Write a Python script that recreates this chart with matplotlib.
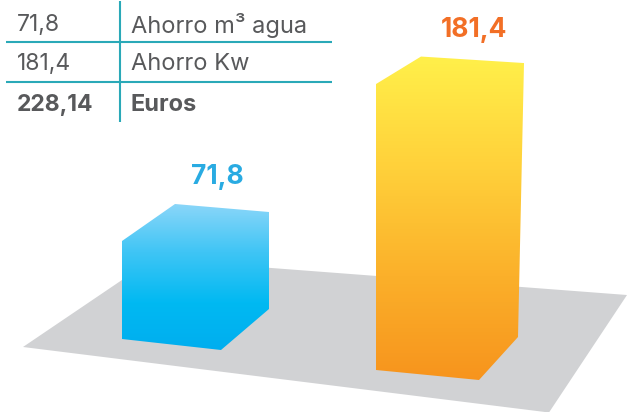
import numpy as np
import matplotlib
matplotlib.use('Agg')
import matplotlib.pyplot as plt
from matplotlib.colors import LinearSegmentedColormap
from matplotlib.patches import Polygon

plt.rcParams['font.family'] = ['Inter', 'DejaVu Sans']

# data
valores = [71.8, 181.4]
etiquetas = ['71,8', '181,4']
tabla_valores = ['71,8', '181,4', '228,14']
tabla_nombres = ['Ahorro m³ agua', 'Ahorro Kw', 'Euros']

GRIS = '#58595b'
TEAL = '#2aa9b8'

# pixel per unit of value, bars start above a cut baseline
ESCALA = 1.715
CORTE = 14.66


def alto(valor):
    return ESCALA * (valor - CORTE)


fig = plt.figure(figsize=(6.27, 4.12), dpi=100)
ax = fig.add_axes([0, 0, 1, 1])
ax.set_xlim(0, 627)
ax.set_ylim(412, 0)
ax.axis('off')

# floor
ax.add_patch(Polygon([(23, 347), (153, 259), (627, 295), (549, 412.5)],
                     facecolor='#d1d2d4', edgecolor='none', zorder=1))

# bars: front-left foot, roof and foot outlines relative to it
barras = [
    dict(x=122, y=339,
         techo=[(0, 0), (53, -37), (147, -29)],
         pie=[(147, -30), (99, 11), (0, 0)],
         colores=['#8ad6f9', '#3fc5f5', '#00b9f2', '#00aeef'],
         stops=[0, 0.33, 0.68, 1]),
    dict(x=376, y=370,
         techo=[(0, 0), (45, -27.5), (148, -21)],
         pie=[(142, -33), (103, 10), (0, 0)],
         colores=['#fff04a', '#ffd03a', '#fbb02a', '#f7941d'],
         stops=[0, 0.35, 0.68, 1]),
]

for valor, b in zip(valores, barras):
    y_top = b['y'] - alto(valor)
    pts = [(b['x'] + dx, y_top + dy) for dx, dy in b['techo']]
    pts += [(b['x'] + dx, b['y'] + dy) for dx, dy in b['pie']]
    xs, ys = zip(*pts)
    cmap = LinearSegmentedColormap.from_list('g', list(zip(b['stops'], b['colores'])))
    img = ax.imshow(np.linspace(0, 1, 256).reshape(-1, 1), cmap=cmap, aspect='auto',
                    extent=[min(xs), max(xs), max(ys), min(ys)], zorder=2)
    img.set_clip_path(Polygon(pts, transform=ax.transData))
ax.set_xlim(0, 627)
ax.set_ylim(412, 0)

# value labels
ax.text(217.5, 177, etiquetas[0], color='#29abe2', fontsize=19, fontweight='bold',
        ha='center', va='center', zorder=3)
ax.text(474.5, 30, etiquetas[1], color='#f26f26', fontsize=19, fontweight='bold',
        ha='center', va='center', zorder=3)

# table
ax.plot([120, 120], [1, 122], color=TEAL, lw=1.5, zorder=3, solid_capstyle='butt')
for y in [42, 82]:
    ax.plot([6, 332], [y, y], color=TEAL, lw=1.5, zorder=3, solid_capstyle='butt')

for i, y in enumerate([25, 64, 105]):
    peso = 'bold' if i == 2 else 'normal'
    ax.text(17, y, tabla_valores[i], color=GRIS, fontsize=16.5, fontweight=peso,
            ha='left', va='center', zorder=3)
    ax.text(131, y, tabla_nombres[i], color=GRIS, fontsize=17, fontweight=peso,
            ha='left', va='center', zorder=3)

fig.savefig('out.png', dpi=100)
